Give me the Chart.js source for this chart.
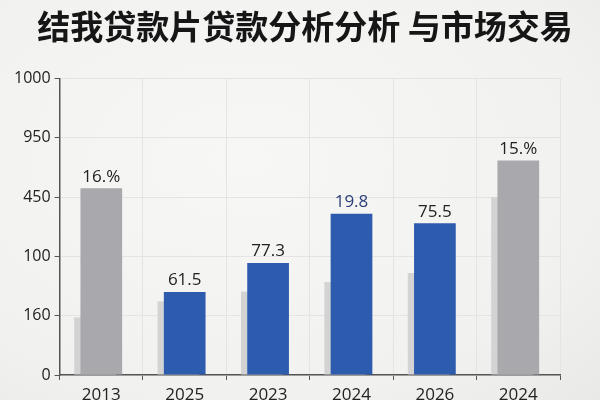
<!DOCTYPE html>
<html>
<head>
<meta charset="utf-8">
<script src="https://cdn.jsdelivr.net/npm/chart.js@4"></script>
<style>
  html, body { margin: 0; padding: 0; }
  body {
    width: 600px; height: 400px; overflow: hidden;
    background: radial-gradient(ellipse at 40% 40%, #f7f7f5 0%, #f1f1ef 70%, #e9e9e7 100%);
  }
  #wrap { width: 600px; height: 400px; }
</style>
</head>
<body>
<div id="wrap"><canvas id="loanChart"></canvas></div>
<script>
// --- DATA ---
const categories = ['2013', '2025', '2023', '2024', '2026', '2024'];
// y axis labels, bottom to top (evenly spaced gridlines)
const yTickLabels = ['0', '160', '100', '450', '950', '1000'];
// bar heights, in gridline steps
const mainValues = [3.15, 1.40, 1.89, 2.72, 2.56, 3.62];
const shadowValues = [0.97, 1.24, 1.41, 1.57, 1.72, 3.00];
const barLabels = ['16.%', '61.5', '77.3', '19.8', '75.5', '15.%'];
const barKinds = ['gray', 'blue', 'blue', 'blue', 'blue', 'gray'];

const shadowShift = -0.075; // shadow bar sits a little to the left

document.addEventListener('DOMContentLoaded', () => {
    const colors = { gray: '#a9a9ad', blue: '#2d5bad' };
    const labelColors = ['#222', '#222', '#222', '#2b3f78', '#222', '#222'];

    // value labels above the front bars
    const barLabelPlugin = {
        id: 'barLabels',
        afterDatasetsDraw(chart) {
            const meta = chart.getDatasetMeta(0);
            const ctx = chart.ctx;
            ctx.save();
            ctx.font = '17px "Open Sans", "DejaVu Sans", sans-serif';
            ctx.textAlign = 'center';
            ctx.textBaseline = 'bottom';
            meta.data.forEach((bar, i) => {
                ctx.fillStyle = labelColors[i];
                ctx.fillText(barLabels[i], bar.x, bar.y - 3);
            });
            ctx.restore();
        }
    };

    const ctx = document.getElementById('loanChart').getContext('2d');
    new Chart(ctx, {
        type: 'bar',
        data: {
            labels: categories,
            datasets: [{
                label: 'main',
                data: mainValues,
                backgroundColor: barKinds.map(k => colors[k]),
                barPercentage: 1,
                categoryPercentage: 0.5,
                grouped: false,
                order: 1
            }, {
                label: 'shadow',
                data: shadowValues.map((v, i) => ({ x: i + shadowShift, y: v })),
                xAxisID: 'xs',
                backgroundColor: '#d3d3d3',
                barPercentage: 1,
                categoryPercentage: 0.5,
                grouped: false,
                order: 2
            }]
        },
        options: {
            responsive: true,
            maintainAspectRatio: false,
            animation: false,
            layout: { padding: { left: 10, right: 0, top: 0, bottom: 0 } },
            plugins: {
                legend: { display: false },
                tooltip: { enabled: false },
                title: {
                    display: true,
                    text: '结我贷款片贷款分析分析 与市场交易',
                    color: '#161616',
                    font: { family: '"Noto Sans CJK SC"', size: 33, weight: 'bold' },
                    padding: { top: 7, bottom: 32 }
                }
            },
            scales: {
                x: {
                    grid: {
                        color: '#e4e4e4',
                        tickColor: '#555',
                        tickLength: 5,
                        offset: true
                    },
                    border: { color: '#555', width: 1.5 },
                    ticks: {
                        color: '#222',
                        padding: 5,
                        font: { family: '"Open Sans", sans-serif', size: 17 }
                    },
                    afterFit(scale) { scale.height = 25; }
                },
                xs: {
                    type: 'linear',
                    display: false,
                    offset: false,
                    min: -0.5,
                    max: 5.5,
                    afterBuildTicks(scale) {
                        scale.ticks = categories.map((c, i) => ({ value: i }));
                    }
                },
                y: {
                    min: 0,
                    max: yTickLabels.length - 1,
                    grid: {
                        color: '#e4e4e4',
                        tickColor: '#555',
                        tickLength: 5
                    },
                    border: { color: '#555', width: 1.5 },
                    ticks: {
                        stepSize: 1,
                        color: '#222',
                        padding: 4,
                        font: { family: '"Open Sans", sans-serif', size: 16 },
                        callback: (value) => yTickLabels[value]
                    }
                },
                // empty right margin, keeps the title centred on the page
                yr: {
                    position: 'right',
                    grid: { display: false },
                    border: { display: false },
                    ticks: { display: false },
                    afterFit(scale) { scale.width = 40; }
                }
            }
        },
        plugins: [barLabelPlugin]
    });
});
</script>
</body>
</html>
